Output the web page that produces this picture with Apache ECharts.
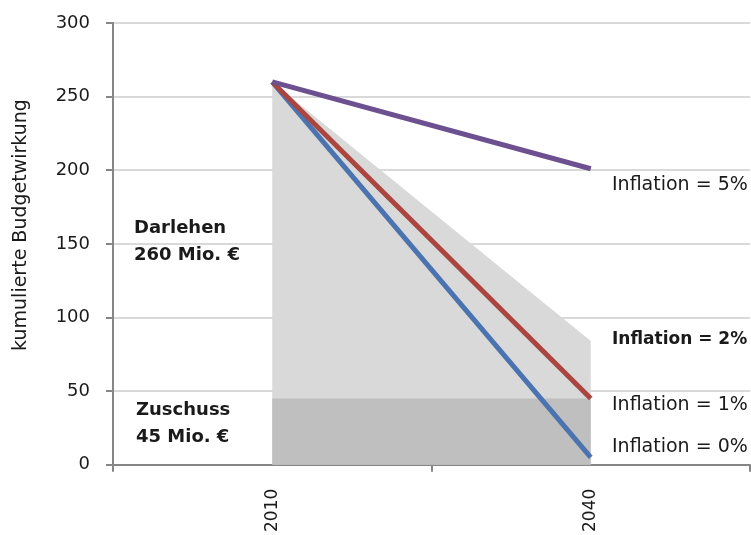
<!DOCTYPE html>
<html>
<head>
<meta charset="utf-8">
<script src="https://cdn.jsdelivr.net/npm/echarts@6/dist/echarts.min.js"></script>
<style>
html,body{margin:0;padding:0;background:#fff;}
#main{width:751px;height:535px;}
</style>
</head>
<body>
<div id="main"></div>
<script>
var jahre = ['2010', '2040'];
var darlehenFlaeche = [260, 84];   // hellgrau, Inflation = 2%
var zuschussFlaeche = [45, 45];    // dunkelgrau
var inflation5 = [260, 201];
var inflation1 = [260, 45];
var inflation0 = [260, 5];
var yTicks = [0, 300, 50];

var font = 'DejaVu Sans';
var myChart = echarts.init(document.getElementById('main'));

function txt(x, y, s, bold, size) {
    return {
        type: 'text', left: x, top: y,
        style: {
            text: s, fill: '#1a1a1a', font: (bold ? 'bold ' : '') + size + 'px "' + font + '"',
            lineHeight: 27
        }
    };
}

var option = {
    animation: false,
    grid: {left: 113, right: 1, top: 23, bottom: 68},
    xAxis: {
        type: 'category',
        data: jahre,
        boundaryGap: true,
        axisLine: {lineStyle: {color: '#868686', width: 2}},
        axisTick: {show: true, length: 7, lineStyle: {color: '#868686', width: 2}},
        axisLabel: {rotate: 90, margin: 24, color: '#1a1a1a', fontSize: 17, fontFamily: font}
    },
    yAxis: {
        type: 'value',
        min: yTicks[0], max: yTicks[1], interval: yTicks[2],
        axisLine: {show: true, lineStyle: {color: '#868686', width: 2}},
        axisTick: {show: true, length: 7, lineStyle: {color: '#868686', width: 2}},
        axisLabel: {margin: 23, color: '#1a1a1a', fontSize: 18, fontFamily: font},
        splitLine: {lineStyle: {color: '#d9d9d9', width: 2}}
    },
    series: [
        {
            type: 'line', data: darlehenFlaeche, symbol: 'none',
            lineStyle: {width: 0}, areaStyle: {color: '#d9d9d9', opacity: 1}, z: 1
        },
        {
            type: 'line', data: zuschussFlaeche, symbol: 'none',
            lineStyle: {width: 0}, areaStyle: {color: '#bfbfbf', opacity: 1}, z: 2
        },
        {
            type: 'line', data: inflation0, symbol: 'none',
            lineStyle: {color: '#4a73b0', width: 5}, z: 3
        },
        {
            type: 'line', data: inflation1, symbol: 'none',
            lineStyle: {color: '#aa4540', width: 5}, z: 4
        },
        {
            type: 'line', data: inflation5, symbol: 'none',
            lineStyle: {color: '#6c5090', width: 5}, z: 5
        }
    ],
    graphic: [
        {
            type: 'text', x: 21, y: 225, rotation: Math.PI / 2,
            style: {
                text: 'kumulierte Budgetwirkung', fill: '#1a1a1a', font: '19px "' + font + '"',
                textAlign: 'center', textVerticalAlign: 'middle'
            }
        },
        txt(134, 215, 'Darlehen\n260 Mio. €', true, 18),
        txt(136, 397, 'Zuschuss\n45 Mio. €', true, 18),
        txt(612, 172, 'Inflation = 5%', false, 19),
        txt(612, 326, 'Inflation = 2%', true, 17),
        txt(612, 392, 'Inflation = 1%', false, 19),
        txt(612, 434, 'Inflation = 0%', false, 19)
    ]
};
myChart.setOption(option);
</script>
</body>
</html>
